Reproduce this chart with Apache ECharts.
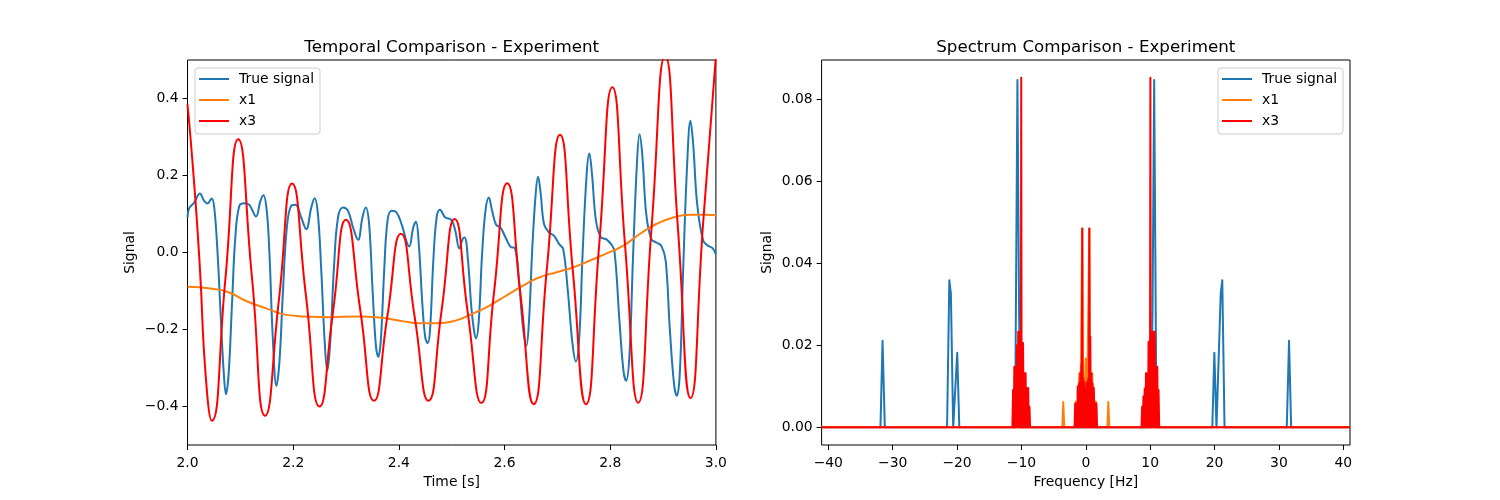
<!DOCTYPE html>
<html><head><meta charset="utf-8">
<script src="https://cdn.jsdelivr.net/npm/echarts@6/dist/echarts.min.js"></script>
<style>html,body{margin:0;padding:0;background:#fff}#c{width:1500px;height:500px}</style>
</head><body><div id="c"></div>
<script>
// ---------- Temporal comparison (left) ----------
const timeTrue = [2.0000,2.0032,2.0127,2.0234,2.0316,2.0380,2.0456,2.0506,2.0570,2.0633,2.0684,2.0728,2.0778,2.0842,2.0905,2.0981,2.1076,2.1171,2.1297,2.1380,2.1437,2.1500,2.1551,2.1614,2.1684,2.1741,2.1804,2.1880,2.1962,2.2044,2.2152,2.2247,2.2342,2.2405,2.2468,2.2532,2.2595,2.2646,2.2703,2.2772,2.2848,2.2943,2.3038,2.3133,2.3228,2.3310,2.3373,2.3437,2.3500,2.3563,2.3608,2.3658,2.3722,2.3785,2.3861,2.3956,2.4051,2.4196,2.4272,2.4323,2.4373,2.4449,2.4500,2.4544,2.4589,2.4652,2.4715,2.4778,2.4878,2.4992,2.5068,2.5144,2.5207,2.5245,2.5309,2.5372,2.5423,2.5461,2.5512,2.5575,2.5639,2.5702,2.5765,2.5841,2.5924,2.6019,2.6114,2.6197,2.6273,2.6349,2.6412,2.6463,2.6526,2.6589,2.6634,2.6685,2.6748,2.6843,2.6938,2.7034,2.7110,2.7192,2.7287,2.7351,2.7414,2.7477,2.7554,2.7604,2.7655,2.7731,2.7826,2.7921,2.8016,2.8080,2.8175,2.8251,2.8302,2.8365,2.8429,2.8505,2.8555,2.8606,2.8682,2.8777,2.8873,2.8968,2.9050,2.9126,2.9208,2.9259,2.9316,2.9380,2.9456,2.9519,2.9570,2.9646,2.9760,2.9855,2.9937,3.0000];
const valTrue = [0.0909,0.1152,0.1299,0.1532,0.1342,0.1273,0.1403,0.1169,-0.0043,-0.1775,-0.3074,-0.3680,-0.3160,-0.1342,0.0390,0.1212,0.1281,0.1238,0.0935,0.1342,0.1489,0.1082,-0.0043,-0.2208,-0.3463,-0.2814,-0.1082,0.0649,0.1212,0.1238,0.0909,0.0606,0.1169,0.1411,0.0996,-0.0476,-0.2294,-0.3074,-0.2294,-0.0390,0.0909,0.1169,0.1082,0.0649,0.0329,0.0909,0.1169,0.0736,-0.0909,-0.2381,-0.2710,-0.2294,-0.0476,0.0823,0.1082,0.1039,0.0736,0.0156,0.0649,0.0797,0.0303,-0.1429,-0.2208,-0.2355,-0.2035,-0.0216,0.0909,0.1108,0.0909,0.0848,0.0563,0.0104,0.0346,0.0390,-0.0216,-0.1429,-0.2035,-0.2225,-0.1775,-0.0043,0.1082,0.1429,0.1082,0.0719,0.0649,0.0390,0.0147,0.0113,-0.0736,-0.1948,-0.2424,-0.1775,0.0130,0.1515,0.1965,0.1515,0.0736,0.0519,0.0433,0.0216,0.0087,-0.0909,-0.2381,-0.2831,-0.2208,-0.0043,0.2035,0.2571,0.2035,0.0823,0.0390,0.0346,0.0216,0.0043,-0.1775,-0.3074,-0.3333,-0.2641,-0.0216,0.2294,0.3074,0.2554,0.0996,0.0346,0.0260,0.0173,-0.0216,-0.1948,-0.3420,-0.3723,-0.3160,-0.0476,0.2294,0.3420,0.2814,0.1255,0.0303,0.0173,0.0113,-0.0043];

const timeX1 = [2.000,2.047,2.079,2.111,2.149,2.187,2.225,2.269,2.320,2.364,2.402,2.440,2.472,2.507,2.538,2.570,2.602,2.634,2.665,2.697,2.729,2.760,2.792,2.824,2.856,2.887,2.919,2.951,2.982,3.000];
const valX1 = [-0.089,-0.094,-0.104,-0.126,-0.145,-0.162,-0.166,-0.168,-0.166,-0.169,-0.177,-0.184,-0.184,-0.177,-0.160,-0.139,-0.113,-0.087,-0.065,-0.052,-0.039,-0.022,-0.003,0.017,0.048,0.074,0.091,0.098,0.098,0.097];

const timeX3 = [2.000,2.012,2.023,2.035,2.046,2.0715,2.096,2.122,2.147,2.173,2.198,2.224,2.250,2.275,2.300,2.327,2.353,2.378,2.404,2.430,2.456,2.481,2.5055,2.530,2.556,2.580,2.605,2.630,2.655,2.680,2.705,2.729,2.754,2.779,2.804,2.828,2.853,2.878,2.904,2.928,2.952,2.976,3.000];
const valX3 = [0.385,0.190,-0.030,-0.330,-0.437,-0.072,0.294,-0.065,-0.424,-0.123,0.179,-0.110,-0.400,-0.158,0.085,-0.150,-0.385,-0.168,0.049,-0.168,-0.385,-0.149,0.087,-0.152,-0.391,-0.105,0.180,-0.107,-0.394,-0.044,0.306,-0.044,-0.394,0.018,0.429,0.020,-0.390,0.060,0.510,0.066,-0.378,0.080,0.510];

// ---------- Spectrum comparison (right) ----------
const freqTrue = [-41.04,-31.90,-31.57,-31.22,-21.55,-21.20,-20.96,-20.60,-20.30,-19.97,-19.65,-10.98,-10.62,-10.36,-10.10,10.10,10.36,10.62,10.98,19.65,19.97,20.30,20.60,20.96,21.20,21.55,31.22,31.57,31.90,41.04];
const specTrue = [0,0,0.0211,0,0,0.0359,0.0327,0,0,0.0182,0,0,0.0847,0.0274,0,0,0.0274,0.0847,0,0,0.0182,0,0,0.0327,0.0359,0,0,0.0211,0,0];

const freqX1 = [-41.04,-3.65,-3.50,-3.35,-1.70,-1.55,-1.40,-1.15,-1.00,-0.85,-0.70,-0.55,-0.40,-0.15,0.00,0.15,0.40,0.55,0.70,0.85,1.00,1.15,1.40,1.55,1.70,3.35,3.50,3.65,41.04];
const specX1 = [0,0,0.0062,0,0,0.0063,0,0,0.0132,0,0,0.0485,0,0,0.0168,0,0,0.0485,0,0,0.0132,0,0,0.0063,0,0,0.0062,0,0];

const freqX3 = [-41.04,
 -11.40,-11.30,-11.20,-11.10,-11.00,-10.90,-10.80,-10.70,-10.60,-10.50,-10.40,-10.30,-10.22,-10.15,-10.09,-10.03,-9.97,-9.91,-9.85,-9.75,-9.65,-9.55,-9.45,-9.35,-9.25,-9.15,-9.05,-8.95,-8.85,-8.75,-8.65,
 -1.75,-1.65,-1.55,-1.45,-1.35,-1.25,-1.15,-1.05,-0.95,-0.85,-0.75,-0.68,-0.61,-0.55,-0.49,-0.40,-0.30,-0.20,-0.10,0.00,0.10,0.20,0.30,0.40,0.49,0.55,0.61,0.70,0.78,0.87,0.95,1.05,1.15,1.25,1.35,1.45,1.55,1.65,1.75,
 8.65,8.75,8.85,8.95,9.05,9.15,9.25,9.35,9.45,9.55,9.65,9.75,9.85,9.91,9.97,10.03,10.09,10.15,10.22,10.30,10.40,10.50,10.60,10.70,10.80,10.90,11.00,11.10,11.20,11.30,11.40,
 41.04];
const specX3 = [0,
 0,0.0091,0,0.0148,0,0.0148,0,0.0200,0,0.0233,0,0.0233,0,0.0180,0,0.0853,0,0.0206,0,0.0206,0,0.0132,0,0.0132,0,0.0096,0,0.0096,0,0.0050,0,
 0,0.0058,0,0.0058,0,0.0100,0,0.0107,0,0.0132,0,0.0152,0,0.0485,0,0.0120,0,0.0110,0,0.0095,0,0.0110,0,0.0120,0,0.0485,0,0.0221,0,0.0132,0,0.0107,0,0.0096,0,0.0058,0,0.0058,0,
 0,0.0050,0,0.0075,0,0.0095,0,0.0132,0,0.0132,0,0.0209,0,0.0180,0,0.0853,0,0.0200,0,0.0233,0,0.0233,0,0.0233,0,0.0148,0,0.0148,0,0.0091,0,
 0];

const timeTicks = [2.0,2.2,2.4,2.6,2.8,3.0];
const signalTicks = [-0.4,-0.2,0.0,0.2,0.4];
const freqTicks = [-40,-30,-20,-10,0,10,20,30,40];
const specTicks = [0,0.02,0.04,0.06,0.08];
const seriesNames = ['True signal','x1','x3'];
const colors = ['#1f77b4','#ff7f0e','#ff0000'];

const zip = (a,b) => a.map((v,i)=>[v,b[i]]);
const FONT = 'DejaVu Sans';
const minus = s => s.replace('-', '\u2212');

function axisCommon(ticks, fmt, extra) {
  return Object.assign({
    type: 'value',
    axisLine: { show: false, onZero: false },
    axisTick: { show: true, inside: false, length: 5, customValues: ticks, lineStyle: { color: '#000', width: 1 } },
    axisLabel: { customValues: ticks, formatter: fmt, color: '#000', fontFamily: FONT, fontSize: 13.9, margin: 9 },
    splitLine: { show: false },
    nameTextStyle: { color: '#000', fontFamily: FONT, fontSize: 13.9 },
    nameLocation: 'middle'
  }, extra);
}

function legendAt(left) {
  return {
    data: seriesNames, orient: 'vertical', left: left, top: 68,
    icon: 'rect', itemWidth: 30, itemHeight: 2, itemGap: 7,
    padding: [4, 6, 6, 4],
    backgroundColor: 'rgba(255,255,255,0.8)', borderColor: '#cccccc', borderWidth: 1, borderRadius: 3,
    selectedMode: false,
    textStyle: { fontFamily: FONT, fontSize: 13.9, color: '#000', padding: [0,0,0,5], lineHeight: 14 }
  };
}

function lineSeries(name, idx, data, axis, smooth) {
  return {
    name: name, type: 'line', xAxisIndex: axis, yAxisIndex: axis,
    data: data, showSymbol: false, symbol: 'none', smooth: smooth,
    color: colors[idx],
    itemStyle: { color: colors[idx] },
    lineStyle: { color: colors[idx], width: 2, join: 'round' },
    animation: false, clip: true, emphasis: { disabled: true }
  };
}

const chart = echarts.init(document.getElementById('c'), null, { renderer: 'canvas' });
chart.setOption({
  animation: false,
  backgroundColor: '#fff',
  title: [
    { text: 'Temporal Comparison - Experiment', left: 451.7, top: 39.5, textAlign: 'center', padding: 0,
      textStyle: { fontFamily: FONT, fontSize: 16.7, fontWeight: 'normal', color: '#000' } },
    { text: 'Spectrum Comparison - Experiment', left: 1085.8, top: 39.5, textAlign: 'center', padding: 0,
      textStyle: { fontFamily: FONT, fontSize: 16.7, fontWeight: 'normal', color: '#000' } }
  ],
  grid: [
    { left: 187.5, top: 60, width: 528.4, height: 385, show: true, borderColor: '#000', borderWidth: 1, backgroundColor: 'transparent' },
    { left: 821.6, top: 60, width: 528.4, height: 385, show: true, borderColor: '#000', borderWidth: 1, backgroundColor: 'transparent' }
  ],
  xAxis: [
    axisCommon(timeTicks, v => v.toFixed(1), { gridIndex: 0, min: 2, max: 3, name: 'Time [s]', nameGap: 28,
      axisLabel: { customValues: timeTicks, formatter: v => v.toFixed(1), color: '#000', fontFamily: FONT, fontSize: 13.9, margin: 11 } }),
    axisCommon(freqTicks, v => minus(String(v)), { gridIndex: 1, min: -41.04, max: 41.04, name: 'Frequency [Hz]', nameGap: 28,
      axisLabel: { customValues: freqTicks, formatter: v => minus(String(v)), color: '#000', fontFamily: FONT, fontSize: 13.9, margin: 11 } })
  ],
  yAxis: [
    axisCommon(signalTicks, v => minus(v.toFixed(1)), { gridIndex: 0, min: -0.5, max: 0.5, name: 'Signal', nameGap: 50 }),
    axisCommon(specTicks, v => v.toFixed(2), { gridIndex: 1, min: -0.0043, max: 0.0896, name: 'Signal', nameGap: 47 })
  ],
  legend: [ legendAt(195), legendAt(1218) ],
  series: [
    lineSeries('True signal', 0, zip(timeTrue, valTrue), 0, 0.4),
    lineSeries('x1', 1, zip(timeX1, valX1), 0, 0.5),
    lineSeries('x3', 2, zip(timeX3, valX3), 0, 0.55),
    lineSeries('True signal', 0, zip(freqTrue, specTrue), 1, false),
    lineSeries('x1', 1, zip(freqX1, specX1), 1, false),
    lineSeries('x3', 2, zip(freqX3, specX3), 1, false)
  ]
});
</script>
</body></html>
